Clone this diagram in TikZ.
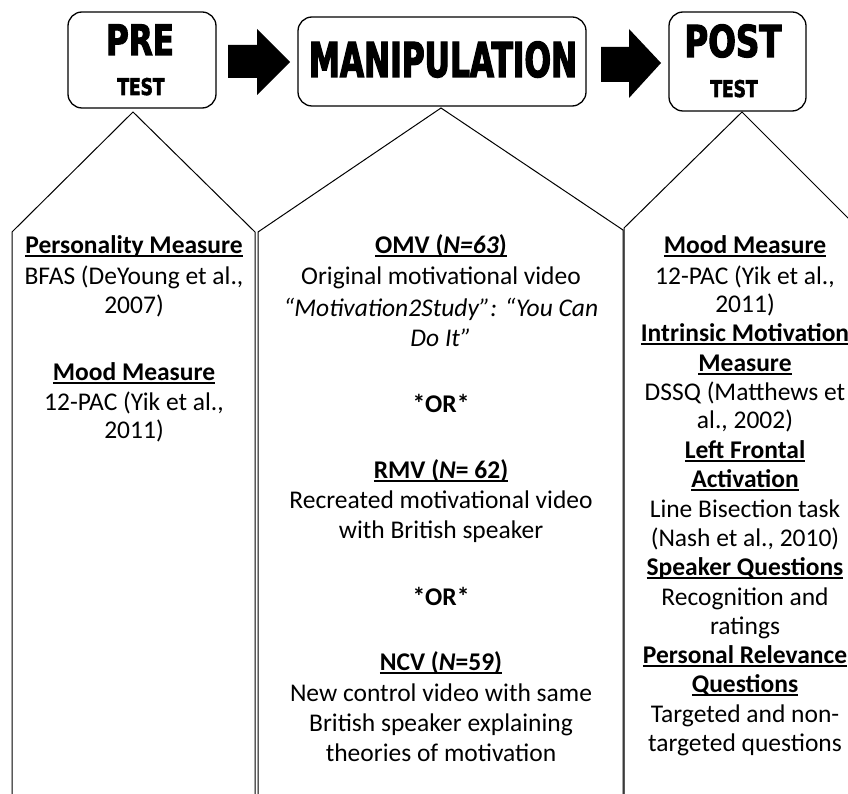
\documentclass[tikz,border=0pt]{standalone}
\usepackage{fontspec}
\setmainfont{Carlito}
\newfontfamily\headfont[FakeStretch=0.74,FakeBold=2.5]{DejaVu Sans}
\newfontfamily\headnarrow[FakeStretch=0.65,FakeBold=2.5]{DejaVu Sans}
\usetikzlibrary{positioning}

% underlined bold heading
\newcommand{\hd}[1]{\setbox0=\hbox{\bfseries #1}\rlap{\rule[-3.5pt]{\wd0}{2pt}}\box0}

\begin{document}
\begin{tikzpicture}[x=1pt, y=-1pt,
  stage/.style={draw, rounded corners=14pt, line width=1.3pt, inner sep=0pt},
  body/.style={anchor=base, inner sep=0pt, font=\fontsize{25.5}{30}\selectfont},
  outline/.style={line width=1pt}]
\useasboundingbox (0,0) rectangle (848,794);
\clip (0,0) rectangle (848,794);

% Stage boxes
\node[stage, minimum width=148pt, minimum height=96pt] (pre) at (142,60) {};
\node[stage, minimum width=288pt, minimum height=89pt] (manip) at (442,61.5) {};
\node[stage, minimum width=137pt, minimum height=99pt] (post) at (737.5,61.5) {};

\node[anchor=base, inner sep=0pt, font=\headfont\bfseries\fontsize{42}{42}\selectfont] (preword) at (140,55) {PRE};
\node[anchor=base, inner sep=0pt, font=\headfont\bfseries\fontsize{23}{23}\selectfont] (pretest) at (141,95) {TEST};
\node[anchor=base, inner sep=0pt, font=\headnarrow\bfseries\fontsize{48}{48}\selectfont] (manipword) at (443,77) {MANIPULATION};
\node[anchor=base, inner sep=0pt, font=\headfont\bfseries\fontsize{44}{44}\selectfont] (postword) at (733,57) {POST};
\node[anchor=base, inner sep=0pt, font=\headfont\bfseries\fontsize{23}{23}\selectfont] (posttest) at (734,97) {TEST};

% Block arrows
\fill (228,45) -- (257,45) -- (257,29) -- (290,62) -- (257,95) -- (257,78) -- (228,78) -- cycle;
\fill (601,47) -- (629,47) -- (629,29) -- (661,63) -- (629,98) -- (629,82) -- (601,82) -- cycle;

% Column outlines
\draw[outline] (12,800) -- (12,232) -- (133,112) -- (255,232) -- (255,800);
\draw[outline] (258,800) -- (258,232) -- (441,108) -- (623,230) -- (623,800);
\draw[outline] (624,800) -- (624,228) -- (742,112) -- (860,230) -- (860,800);

% Pre-test column
\foreach \y/\txt in {254/{\hd{Personality Measure}}, 284/{BFAS (DeYoung et al.,}, 313/{2007)},
  380/{\hd{Mood Measure}}, 410/{12-PAC (Yik et al.,}, 438/{2011)}}
  \node[body] (pre\y) at (134,\y) {\txt};

% Manipulation column
\foreach \y/\txt in {254/{\hd{OMV (\textit{N=63})}}, 284/{Original motivational video},
  316/{\textit{“Motivation2Study”: “You Can}}, 346/{\textit{Do It”}},
  412/{\textbf{*OR*}},
  478/{\hd{RMV (\textit{N}= 62)}}, 508/{Recreated motivational video}, 538/{with British speaker},
  605/{\textbf{*OR*}},
  670/{\hd{NCV (\textit{N}=59)}}, 701/{New control video with same}, 731/{British speaker explaining},
  761/{theories of motivation}}
  \node[body] (manip\y) at (441,\y) {\txt};

% Post-test column
\foreach \y/\txt in {254/{\hd{Mood Measure}}, 284/{12-PAC (Yik et al.,}, 312/{2011)},
  341/{\hd{Intrinsic Motivation}}, 371/{\hd{Measure}}, 400/{DSSQ (Matthews et}, 428/{al., 2002)},
  458/{\hd{Left Frontal}}, 487/{\hd{Activation}}, 517/{Line Bisection task}, 546/{(Nash et al., 2010)},
  575/{\hd{Speaker Questions}}, 605/{Recognition and}, 634/{ratings},
  663/{\hd{Personal Relevance}}, 692/{\hd{Questions}}, 722/{Targeted and non-}, 751/{targeted questions}}
  \node[body] (post\y) at (745,\y) {\txt};
\end{tikzpicture}
\end{document}
